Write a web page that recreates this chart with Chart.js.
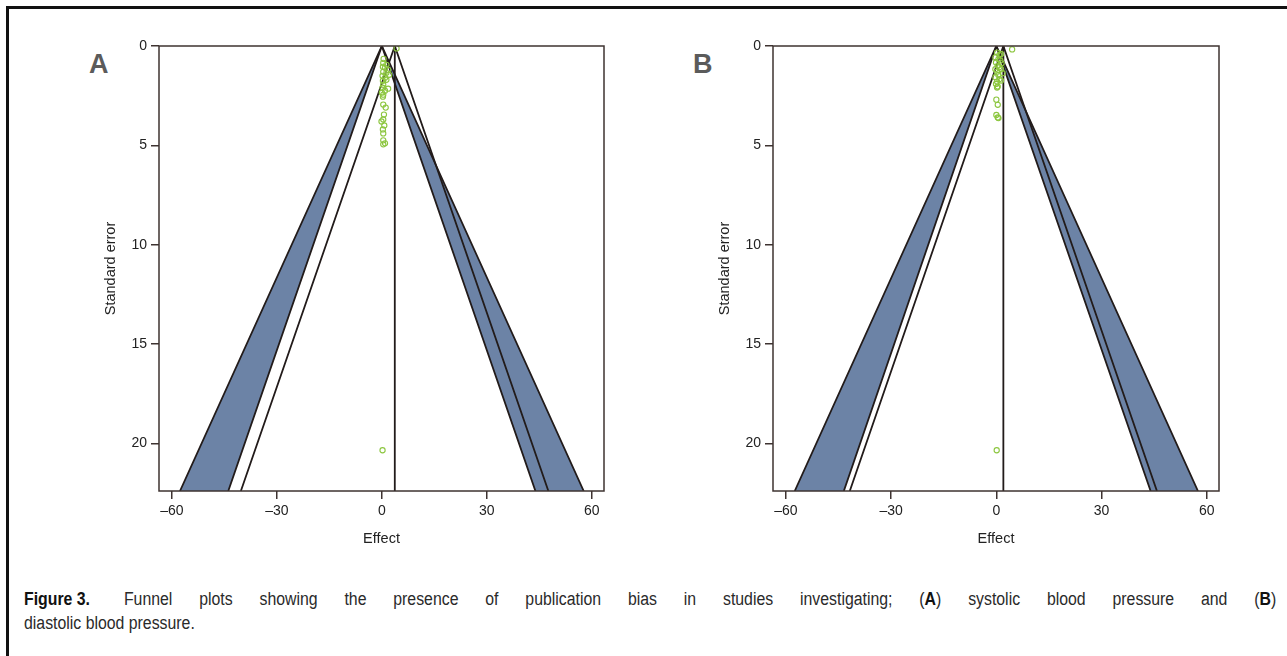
<!DOCTYPE html>
<html>
<head>
<meta charset="utf-8">
<script src="https://cdn.jsdelivr.net/npm/chart.js@4.4.0/dist/chart.umd.min.js"></script>
<style>
  body { margin: 0; width: 1287px; height: 656px; background: #fff; position: relative; overflow: hidden; font-family: Arial, "Liberation Sans", sans-serif; }
  #frame { position: absolute; left: 6px; top: 6px; width: 1300px; height: 700px; border-top: 3px solid #111; border-left: 3px solid #111; }
  .panel { position: absolute; top: 30px; width: 530px; height: 522px; }
  .letter { position: absolute; top: 49px; font: bold 27px Arial, "Liberation Sans", sans-serif; color: #5b5b5b; }
  /* condensed look: Arial metrics squeezed horizontally */
  #caption { position: absolute; left: 24px; top: 587px; width: 1423px; transform: scaleX(0.88); transform-origin: 0 0;
             font-family: Arial, "Liberation Sans", sans-serif; font-size: 18px; line-height: 24px; color: #2a2a2a; }
  #caption .l1 { text-align: justify; text-align-last: justify; }
  #caption b { font-weight: bold; color: #111; }
  #caption .fig { display: inline-block; margin-right: 8px; }
</style>
</head>
<body>
<div id="frame"></div>
<div class="letter" style="left:89px">A</div>
<div class="letter" style="left:693px">B</div>
<div class="panel" style="left:98px"><canvas id="chartA"></canvas></div>
<div class="panel" style="left:712px"><canvas id="chartB"></canvas></div>
<div id="caption">
  <div class="l1"><b class="fig">Figure 3.</b> Funnel plots showing the presence of publication bias in studies investigating; (<b>A</b>) systolic blood pressure and (<b>B</b>)</div>
  <div>diastolic blood pressure.</div>
</div>
<script>
// axes
const xTicks = [-60, -30, 0, 30, 60];
const yTicks = [0, 5, 10, 15, 20];
const xMin = -63.7, xMax = 63.5;
const seMax = 22.4;

// panel A - systolic
const effectA = [4.2, 0.5, 0.4, 1.3, 0.3, 0.9, 1.8, 0.4, 1.3, 2.1, 0.2, 0.9, 0.3, 1.3, 0.4, 0.2, 1.8, 0.9, 0.0, 0.4, 0.3, 0.4, 1.1, 0.6, 0.4, -0.1, 0.7, 0.3, 0.4, 0.4, 0.9, 0.4, 0.2];
const seA = [0.12, 0.65, 0.85, 0.95, 1.05, 1.1, 1.2, 1.3, 1.35, 1.45, 1.5, 1.6, 1.75, 1.7, 1.95, 2.1, 2.15, 2.25, 2.35, 2.45, 2.55, 2.95, 3.1, 3.45, 3.7, 3.8, 4.0, 4.2, 4.4, 4.75, 4.9, 4.95, 20.35];
const pooledA = 3.7;
const contourA = [-57.7, -43.9, 43.9, 57.7];   // 99% / 95% limits around 0 at seMax
const pooledLimitsA = [-40.3, 47.6];

// panel B - diastolic
const effectB = [4.5, 0.2, 0.86, 1.34, -0.28, 0.58, 1.15, -0.1, 1.5, 0.4, 0.86, -0.28, 1.34, 0.2, 1.82, 0.58, -0.28, 0.86, 0.2, 1.34, -0.1, 0.4, 0.2, 0.0, 0.4, 0.0, 0.6, 0.4, 0.1];
const seB = [0.17, 0.33, 0.45, 0.4, 0.57, 0.67, 0.73, 0.83, 0.87, 1.0, 1.07, 1.17, 1.17, 1.29, 1.37, 1.46, 1.57, 1.67, 1.79, 1.74, 1.91, 2.04, 2.09, 2.7, 2.96, 3.47, 3.63, 3.6, 20.35];
const pooledB = 2.0;
const contourB = [-57.5, -43.5, 44.0, 57.5];
const pooledLimitsB = [-41.8, 45.8];

const lineColor = '#221b1a';
const axisColor = '#3e3331';
const shadeColor = 'rgb(108,131,166)';
const pointColor = '#8cc63f';

// draws the box round the plot area
const boxPlugin = {
  id: 'box',
  afterDraw(chart) {
    const a = chart.chartArea, ctx = chart.ctx;
    ctx.save();
    ctx.strokeStyle = axisColor;
    ctx.lineWidth = 1.5;
    ctx.strokeRect(a.left, a.top, a.right - a.left, a.bottom - a.top);
    ctx.restore();
  }
};

function lineSet(points, order) {
  return { data: points, borderColor: lineColor, borderWidth: 1.8, pointRadius: 0, fill: false, order: order };
}

function makeChart(id, effects, ses, pooled, contour, pooledLimits, padRight) {
  const points = effects.map((e, i) => ({ x: e, y: ses[i] }));
  const datasets = [
    { data: points, showLine: false, pointRadius: 2.6, pointBorderWidth: 1.1,
      pointBorderColor: pointColor, pointBackgroundColor: 'rgba(255,255,255,0)', order: 0 },
    lineSet([{ x: contour[0], y: seMax }, { x: 0, y: 0 }, { x: contour[3], y: seMax }], 1),
    lineSet([{ x: contour[1], y: seMax }, { x: 0, y: 0 }, { x: contour[2], y: seMax }], 1),
    lineSet([{ x: pooledLimits[0], y: seMax }, { x: pooled, y: 0 }, { x: pooledLimits[1], y: seMax }], 1),
    lineSet([{ x: pooled, y: 0 }, { x: pooled, y: seMax }], 1),
    { data: [{ x: 0, y: 0 }, { x: contour[0], y: seMax }, { x: contour[1], y: seMax }],
      fill: 'shape', backgroundColor: shadeColor, borderWidth: 0, pointRadius: 0, order: 2 },
    { data: [{ x: 0, y: 0 }, { x: contour[2], y: seMax }, { x: contour[3], y: seMax }],
      fill: 'shape', backgroundColor: shadeColor, borderWidth: 0, pointRadius: 0, order: 2 }
  ];

  const tickFont = { family: 'Arial, "Liberation Sans", sans-serif', size: 14 };
  const titleFont = { family: 'Arial, "Liberation Sans", sans-serif', size: 14.5 };

  return new Chart(document.getElementById(id), {
    type: 'line',
    data: { datasets: datasets },
    options: {
      responsive: true,
      maintainAspectRatio: false,
      animation: false,
      layout: { padding: { top: 16, right: padRight, left: 0, bottom: 0 } },
      plugins: { legend: { display: false }, tooltip: { enabled: false } },
      elements: { line: { tension: 0 } },
      scales: {
        x: {
          type: 'linear', min: xMin, max: xMax,
          afterBuildTicks: s => { s.ticks = xTicks.map(v => ({ value: v })); },
          afterFit: s => { s.height = 61; },
          grid: { drawOnChartArea: false, drawTicks: true, tickLength: 8, color: axisColor, lineWidth: 1.5 },
          border: { display: false },
          ticks: { color: '#222', font: tickFont, padding: 4, maxRotation: 0,
                   callback: v => String(v).replace('-', '\u2013') },
          title: { display: true, text: 'Effect', color: '#222', font: titleFont }
        },
        y: {
          type: 'linear', reverse: true, min: 0, max: seMax,
          afterBuildTicks: s => { s.ticks = yTicks.map(v => ({ value: v })); },
          afterFit: s => { s.width = 61; },
          grid: { drawOnChartArea: false, drawTicks: true, tickLength: 8, color: axisColor, lineWidth: 1.5 },
          border: { display: false },
          ticks: { color: '#222', font: tickFont, padding: 4 },
          title: { display: true, text: 'Standard error', color: '#222', font: titleFont }
        }
      }
    },
    plugins: [boxPlugin]
  });
}

makeChart('chartA', effectA, seA, pooledA, contourA, pooledLimitsA, 24);
makeChart('chartB', effectB, seB, pooledB, contourB, pooledLimitsB, 23);
</script>
</body>
</html>
